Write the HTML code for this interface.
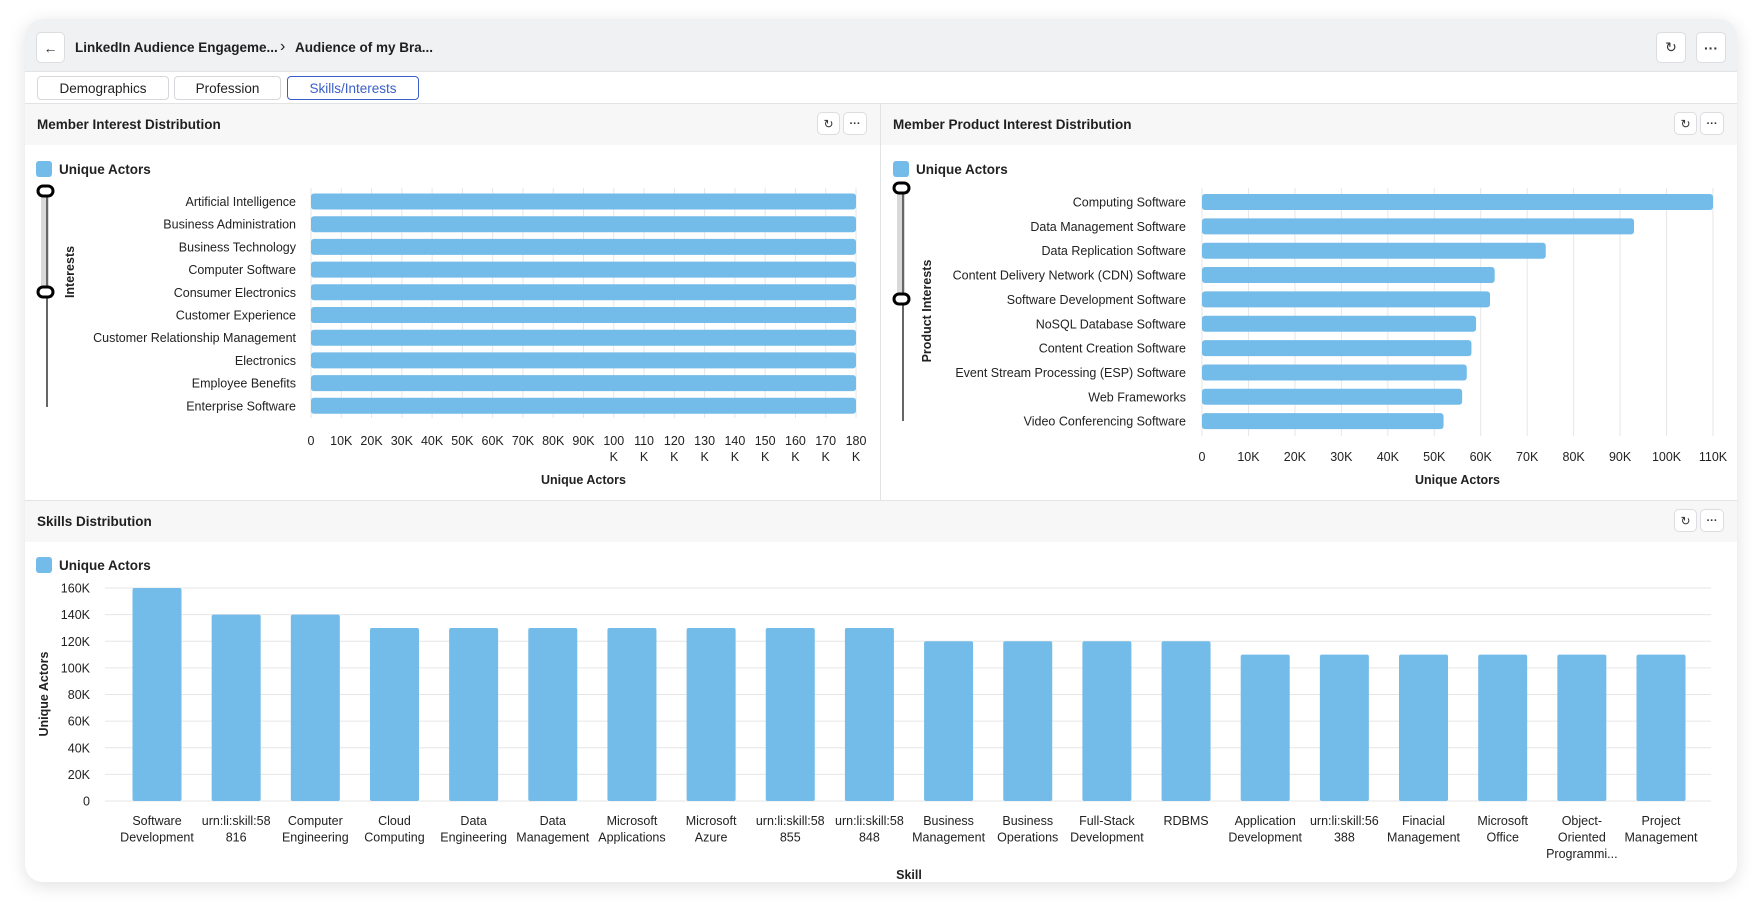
<!DOCTYPE html>
<html><head><meta charset="utf-8"><style>
*{box-sizing:border-box;margin:0;padding:0}
body{width:1762px;height:909px;background:#fff;font-family:"Liberation Sans",sans-serif;color:#1f1f1f;position:relative;overflow:hidden}
.card{position:absolute;left:25px;top:19px;width:1712px;height:863px;border-radius:18px;background:#fff;box-shadow:0 4px 18px rgba(0,0,0,.12);overflow:hidden}
.hdr{position:absolute;left:0;top:0;width:100%;height:53px;background:#f0f1f2;border-bottom:1px solid #e2e3e5}
.btn{position:absolute;background:#fff;border:1px solid #dcdde0;border-radius:5px;display:flex;align-items:center;justify-content:center;font-size:14px;color:#333}
.crumb{position:absolute;top:21px;font-size:13.5px;font-weight:bold;white-space:nowrap}
.tab{position:absolute;top:57px;height:24px;border:1px solid #d6d7da;border-radius:4px;font-size:13.5px;display:flex;align-items:center;justify-content:center;color:#222}
.panel{position:absolute;border-top:1px solid #e2e3e5;background:#fff}
.ptitle{position:absolute;left:0;top:0;width:100%;height:41px;background:#f7f7f8;font-size:13.5px;font-weight:bold;padding:13px 0 0 12px}
svg text{font-family:"Liberation Sans",sans-serif}
</style></head><body>
<div class="card">
 <div class="hdr">
  <div class="btn" style="left:11px;top:13px;width:29px;height:31px">&#8592;</div>
  <div class="crumb" style="left:50px">LinkedIn Audience Engageme...</div>
  <div class="crumb" style="left:255px;font-weight:normal;top:19px;font-size:16px">&#8250;</div>
  <div class="crumb" style="left:270px">Audience of my Bra...</div>
  <div class="btn" style="left:1631px;top:13px;width:30px;height:31px">&#8635;</div>
  <div class="btn" style="left:1671px;top:13px;width:30px;height:31px;font-weight:bold">···</div>
 </div>
 <div class="tab" style="left:12px;width:132px">Demographics</div>
 <div class="tab" style="left:149px;width:107px">Profession</div>
 <div class="tab" style="left:262px;width:132px;border-color:#3b5fc9;color:#3b5fc9">Skills/Interests</div>

 <div class="panel" style="left:0;top:84px;width:856px;height:397px;border-right:1px solid #e2e3e5">
  <div class="ptitle">Member Interest Distribution</div>
  <div class="btn" style="left:792px;top:8px;width:23px;height:23px;font-size:12px">&#8635;</div>
  <div class="btn" style="left:818px;top:8px;width:24px;height:23px;font-size:11px;font-weight:bold">···</div>
 </div>
 <div class="panel" style="left:856px;top:84px;width:856px;height:397px">
  <div class="ptitle">Member Product Interest Distribution</div>
  <div class="btn" style="left:793px;top:8px;width:23px;height:23px;font-size:12px">&#8635;</div>
  <div class="btn" style="left:819px;top:8px;width:24px;height:23px;font-size:11px;font-weight:bold">···</div>
 </div>
 <div class="panel" style="left:0;top:481px;width:1712px;height:382px">
  <div class="ptitle">Skills Distribution</div>
  <div class="btn" style="left:1649px;top:8px;width:23px;height:23px;font-size:12px">&#8635;</div>
  <div class="btn" style="left:1675px;top:8px;width:24px;height:23px;font-size:11px;font-weight:bold">···</div>
 </div>
</div>
<svg id="s" width="1762" height="909" style="position:absolute;left:0;top:0"></svg>
<script>
const interestCats=["Artificial Intelligence","Business Administration","Business Technology","Computer Software","Consumer Electronics","Customer Experience","Customer Relationship Management","Electronics","Employee Benefits","Enterprise Software"];
const interestVals=[180000,180000,180000,180000,180000,180000,180000,180000,180000,180000];
const interestTicks=[0,10000,20000,30000,40000,50000,60000,70000,80000,90000,100000,110000,120000,130000,140000,150000,160000,170000,180000];
const productCats=["Computing Software","Data Management Software","Data Replication Software","Content Delivery Network (CDN) Software","Software Development Software","NoSQL Database Software","Content Creation Software","Event Stream Processing (ESP) Software","Web Frameworks","Video Conferencing Software"];
const productVals=[110000,93000,74000,63000,62000,59000,58000,57000,56000,52000];
const productTicks=[0,10000,20000,30000,40000,50000,60000,70000,80000,90000,100000,110000];
const skillCats=[["Software","Development"],["urn:li:skill:58","816"],["Computer","Engineering"],["Cloud","Computing"],["Data","Engineering"],["Data","Management"],["Microsoft","Applications"],["Microsoft","Azure"],["urn:li:skill:58","855"],["urn:li:skill:58","848"],["Business","Management"],["Business","Operations"],["Full-Stack","Development"],["RDBMS"],["Application","Development"],["urn:li:skill:56","388"],["Finacial","Management"],["Microsoft","Office"],["Object-","Oriented","Programmi..."],["Project","Management"]];
const skillVals=[160000,140000,140000,130000,130000,130000,130000,130000,130000,130000,120000,120000,120000,120000,110000,110000,110000,110000,110000,110000];
const skillTicks=[0,20000,40000,60000,80000,100000,120000,140000,160000];

const S=document.getElementById('s');const NS="http://www.w3.org/2000/svg";
const BLUE="#73bbe8";
function mk(t,a,txt){const e=document.createElementNS(NS,t);for(const k in a)e.setAttribute(k,a[k]);if(txt!==undefined)e.textContent=txt;S.appendChild(e);return e;}
function fmt(v){return v===0?"0":(v/1000)+"K";}

function legend(x,y,pfx){
  const r=mk('rect',{x:x,y:y,width:16,height:16,rx:3,fill:BLUE});
  
  
  const t=mk('text',{x:x+23,y:y+13,'font-size':13.5,'font-weight':'bold',fill:'#222'},"Unique Actors");
  
  
}
function slider(x,y0,y1,h1,h2,pfx){
  mk('rect',{x:x-4,y:y0,width:8,height:h2-y0,fill:'#d9d9d9'});
  mk('line',{x1:x+2,y1:y0,x2:x+2,y2:y1,stroke:'#666','stroke-width':2});
  [h1,h2].forEach((h,i)=>{const e=mk('rect',{x:x-7,y:h-5,width:15,height:10,rx:5,fill:'#fff',stroke:'#000','stroke-width':3});
    
    });
}
function hbar(o){
  const sx=v=>o.x0+(v/o.max)*(o.x1-o.x0);
  const sy=i=>o.y0+i*o.step;
  o.ticks.forEach(t=>{
    mk('line',{x1:sx(t),y1:o.gy0,x2:sx(t),y2:o.gy1,stroke:'#e6e6e6'});
    const lab=fmt(t);
    if(o.wrap&&t>=100000){
      mk('text',{x:sx(t),y:o.ty,'text-anchor':'middle','font-size':12.5,fill:'#222'},String(t/1000));
      mk('text',{x:sx(t),y:o.ty+16,'text-anchor':'middle','font-size':12.5,fill:'#222'},"K");
    }else mk('text',{x:sx(t),y:o.ty,'text-anchor':'middle','font-size':12.5,fill:'#222'},lab);
  });
  o.cats.forEach((c,i)=>{
    const cy=sy(i);
    const r=mk('rect',{x:o.x0,y:cy-8,width:sx(o.vals[i])-o.x0,height:16,rx:3,fill:BLUE});
    
    
    mk('text',{x:o.lx,y:cy+4.5,'text-anchor':'end','font-size':12.5,fill:'#222'},c);
  });
  mk('text',{x:(o.x0+o.x1)/2,y:o.atY,'text-anchor':'middle','font-size':12.5,'font-weight':'bold',fill:'#222'},"Unique Actors");
  mk('text',{x:0,y:0,transform:`translate(${o.ytx},${o.yty}) rotate(-90)`,'text-anchor':'middle','font-size':12.5,'font-weight':'bold',fill:'#222'},o.ytitle);
}
legend(36,161,'interest');
slider(45,187,407,191,292,'interest');
hbar({pfx:'interest',cats:interestCats,vals:interestVals,ticks:interestTicks,max:180000,x0:311,x1:856,y0:201.5,step:22.7,gy0:188,gy1:418,ty:445,wrap:true,lx:296,atY:484,ytitle:"Interests",ytx:74,yty:272});
legend(893,161,'product');
slider(901,185,421,188,299,'product');
hbar({pfx:'product',cats:productCats,vals:productVals,ticks:productTicks,max:110000,x0:1202,x1:1713,y0:202,step:24.35,gy0:188,gy1:436,ty:461,wrap:false,lx:1186,atY:484,ytitle:"Product Interests",ytx:931,yty:311});

legend(36,557,'skills');
(function(){
  const x0=105,x1=1711,yb=801,yt=588,max=160000;
  const sy=v=>yb-(v/max)*(yb-yt);
  const step=(1661-157)/(skillCats.length-1);
  const sx=i=>157+i*step;
  skillTicks.forEach(t=>{
    mk('line',{x1:x0,y1:sy(t),x2:x1,y2:sy(t),stroke:'#e6e6e6'});
    mk('text',{x:90,y:sy(t)+4.5,'text-anchor':'end','font-size':12.5,fill:'#222'},fmt(t));
  });
  skillCats.forEach((c,i)=>{
    const r=mk('rect',{x:sx(i)-24.5,y:sy(skillVals[i]),width:49,height:yb-sy(skillVals[i]),rx:2,fill:BLUE});
    
    
    c.forEach((l,j)=>mk('text',{x:sx(i),y:825+j*16.5,'text-anchor':'middle','font-size':12.5,fill:'#222'},l));
  });
  mk('text',{x:909,y:879,'text-anchor':'middle','font-size':12.5,'font-weight':'bold',fill:'#222'},"Skill");
  mk('text',{x:0,y:0,transform:'translate(48,694) rotate(-90)','text-anchor':'middle','font-size':12.5,'font-weight':'bold',fill:'#222'},"Unique Actors");
})();
</script>
</body></html>
